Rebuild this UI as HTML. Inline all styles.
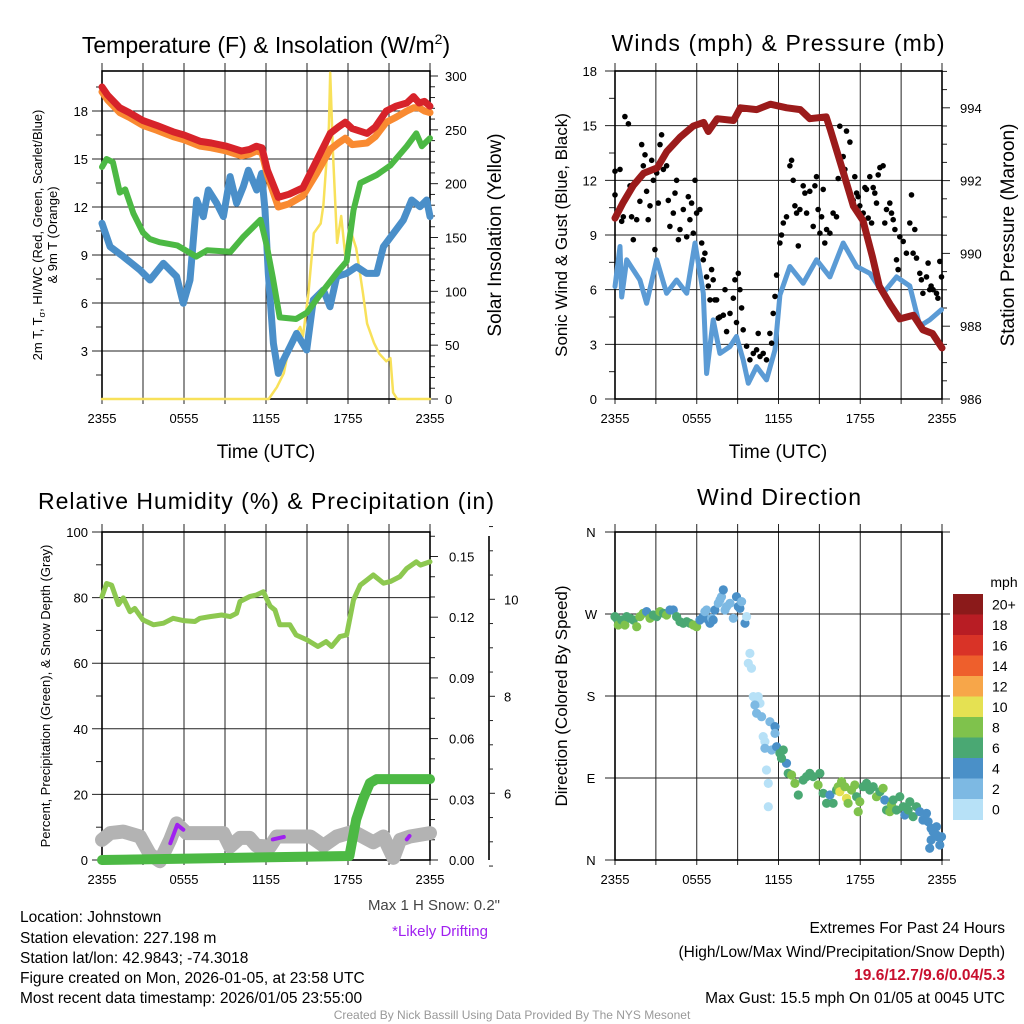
<!DOCTYPE html>
<html><head><meta charset="utf-8"><style>
html,body{margin:0;padding:0;background:#fff;}
svg{display:block;font-family:"Liberation Sans",Arial,sans-serif;}
</style></head><body>
<svg id="fig" width="1024" height="1024" viewBox="0 0 1024 1024" xmlns="http://www.w3.org/2000/svg">
<rect width="1024" height="1024" fill="#fff"/>
<g id="gl"></g>
<text x="266" y="53" font-size="23" text-anchor="middle">Temperature (F) &amp; Insolation (W/m<tspan font-size="14" dy="-9">2</tspan><tspan dy="9">)</tspan></text>
<text x="778" y="51" font-size="23" text-anchor="middle" textLength="333">Winds (mph) &amp; Pressure (mb)</text>
<text x="266" y="509" font-size="23" text-anchor="middle" textLength="456">Relative Humidity (%) &amp; Precipitation (in)</text>
<text x="779" y="505" font-size="23" text-anchor="middle" textLength="164">Wind Direction</text>
<text x="266" y="458" font-size="19" text-anchor="middle">Time (UTC)</text>
<text x="778" y="458" font-size="19" text-anchor="middle">Time (UTC)</text>
<text transform="translate(42,235) rotate(-90)" font-size="13" text-anchor="middle">2m T, T<tspan font-size="9" dy="3">σ</tspan><tspan dy="-3">, HI/WC (Red, Green, Scarlet/Blue)</tspan></text>
<text transform="translate(57,235) rotate(-90)" font-size="13" text-anchor="middle">&amp; 9m T (Orange)</text>
<text transform="translate(501,235) rotate(-90)" font-size="19" text-anchor="middle">Solar Insolation (Yellow)</text>
<text transform="translate(567,235) rotate(-90)" font-size="17" text-anchor="middle">Sonic Wind &amp; Gust (Blue, Black)</text>
<text transform="translate(1014,235) rotate(-90)" font-size="19" text-anchor="middle">Station Pressure (Maroon)</text>
<text transform="translate(50,696) rotate(-90)" font-size="13" text-anchor="middle">Percent, Precipitation (Green), &amp; Snow Depth (Gray)</text>
<text transform="translate(567,696) rotate(-90)" font-size="17" text-anchor="middle">Direction (Colored By Speed)</text>
<text x="1004" y="587" font-size="14" text-anchor="middle">mph</text>
<text x="500" y="910" font-size="15" fill="#444" text-anchor="end">Max 1 H Snow: 0.2"</text>
<text x="488" y="936" font-size="15" fill="#a020f0" text-anchor="end">*Likely Drifting</text>
<g font-size="15.5">
<text x="20" y="922">Location: Johnstown</text>
<text x="20" y="943">Station elevation: 227.198 m</text>
<text x="20" y="963">Station lat/lon: 42.9843; -74.3018</text>
<text x="20" y="983">Figure created on Mon, 2026-01-05, at 23:58 UTC</text>
<text x="20" y="1003">Most recent data timestamp: 2026/01/05 23:55:00</text>
</g>
<g font-size="15.5" text-anchor="end">
<text x="1005" y="933">Extremes For Past 24 Hours</text>
<text x="1005" y="957">(High/Low/Max Wind/Precipitation/Snow Depth)</text>
<text x="1005" y="980" fill="#c8102e" font-weight="bold">19.6/12.7/9.6/0.04/5.3</text>
<text x="1005" y="1003">Max Gust: 15.5 mph On 01/05 at 0045 UTC</text>
</g>
<text x="512" y="1019" font-size="12" fill="#999" text-anchor="middle">Created By Nick Bassill Using Data Provided By The NYS Mesonet</text>
</svg>
<script>
// ---------- Panel 1 data ----------
const tH=[0,0.4,1.3,2,3,4,5.2,6,7.2,8,9.1,10.2,10.8,11.3,11.7,12.1,12.9,13.7,14.7,15.7,16.7,17.3,17.8,18.3,19.4,20,20.8,21.5,22.3,22.8,23.2,23.6,24];
const tempRed=[19.5,19,18.2,17.9,17.4,17.1,16.7,16.5,16.1,16,15.8,15.5,15.6,15.8,15.7,14.3,12.6,12.8,13.2,14.9,16.6,17,17.3,16.9,16.6,17,18,18.3,18.5,18.9,18.5,18.6,18.3];
const temp9mOrange=[19.2,18.7,17.9,17.6,17.1,16.8,16.4,16.2,15.8,15.7,15.5,15.2,15.3,15.5,15.4,14.0,12.0,12.2,12.7,14.1,15.6,16.0,16.3,15.9,16.0,16.4,17.3,17.6,18.0,18.2,18.2,18.0,17.9];
const dewH=[0,0.34,0.8,1.3,1.7,2.3,3,3.5,4.2,5.5,6.9,7.7,9.4,10.3,11.6,12.05,12.5,13,14.2,15,16.2,17.2,17.9,18.4,18.9,20.1,21.1,22.3,23,23.4,24];
const dewGreen=[14.5,15,14.8,12.9,13.1,11.6,10.4,10,9.8,9.6,8.9,9.3,9.2,10.1,11.2,9.6,7.6,5.1,5.0,5.4,6.8,7.9,8.6,11.8,13.5,14.0,14.6,15.8,16.6,15.8,16.3];
const wcH=[0,0.59,1.56,2.78,3.51,4.49,5.46,5.95,6.44,6.93,7.41,7.78,8.39,8.88,9.37,9.85,10.34,10.71,11.32,11.68,11.93,12.17,12.54,12.9,13.27,13.76,14.24,14.98,15.46,16.2,16.68,17.17,17.9,18.63,19.37,20.1,20.59,21.32,22.05,22.66,23.27,23.76,24];
const wcBlue=[10.98,9.52,8.9,8.06,7.44,8.48,7.65,5.98,7.44,12.44,11.4,13.06,12.23,11.4,13.9,12.23,13.27,14.3,13.06,14.1,11.8,7.85,3.48,1.6,2.44,3.27,4.1,3.06,6.19,6.81,5.77,7.65,7.85,8.27,7.85,7.85,9.52,10.35,11.19,12.44,12.02,12.44,11.4];
const solH=[0,12.2,12.8,13.3,13.75,14.5,14.7,15.1,15.5,16.0,16.2,16.6,16.7,16.9,17.2,17.5,17.8,18.1,18.6,19.1,19.4,19.9,20.3,20.8,21.1,21.3,21.6,24];
const solar=[0,0,11,24,52,67,58,98,154,163,180,253,303,228,145,170,133,160,140,98,70,52,42,35,38,6,0,0];
const tempTicks=[3,6,9,12,15,18];
const solarTicks=[0,50,100,150,200,250,300];
const timeLabels=["2355","0555","1155","1755","2355"];
// ---------- Panel 2 data ----------
const presH=[0,0.6,1.35,2.1,3.1,3.8,4.8,5.75,6.5,6.85,7.5,8.7,9.2,10.4,11.4,12.6,13.6,14.3,15.5,15.8,16.7,17.5,18.2,18.9,19.4,20.2,20.9,21.9,22.6,23.3,24];
const pressure=[990.97,991.4,991.87,992.2,992.35,992.8,993.2,993.5,993.6,993.35,993.7,993.65,994.0,993.95,994.1,994.0,993.95,993.7,993.75,993.4,992.3,991.3,990.9,989.9,989.1,988.6,988.2,988.3,987.9,987.8,987.4];
const windH=[0,0.37,0.49,0.86,1.83,2.32,3.06,3.79,4.52,5.26,5.87,6.48,6.72,7.21,7.7,8.44,8.92,9.41,9.78,10.39,11.12,11.74,12.1,12.84,13.81,14.79,15.77,16.75,17.73,18.7,19.68,20.66,21.64,22.37,23.1,23.96];
const windSpd=[6.17,8.37,5.6,7.64,6.53,5.25,7.64,5.8,6.53,5.8,8.56,5.8,1.4,4.34,2.5,2.88,3.43,2.14,0.86,1.78,1.05,2.7,5.7,7.27,6.35,7.64,6.7,8.56,7.27,6.9,5.8,6.7,6.2,4.0,4.34,4.9];
const gustH=[0,0,0.37,0.49,0.73,0.98,0.61,1.1,1.22,1.34,1.59,1.83,1.96,2.08,2.2,2.32,2.44,2.57,2.69,2.81,2.93,3.06,3.18,3.3,3.42,3.55,3.79,3.91,4.03,4.28,4.4,4.52,4.65,4.77,5.01,5.26,5.38,5.5,5.62,5.75,5.87,5.99,6.23,6.36,6.48,6.6,6.72,6.85,6.97,7.09,7.21,7.33,7.46,7.58,7.7,7.95,8.07,8.19,8.44,8.68,8.8,8.92,9.05,9.17,9.29,9.41,9.66,9.9,10.15,10.39,10.51,10.64,10.88,11.12,11.37,11.49,11.61,11.74,11.86,12.1,12.22,12.35,12.59,12.84,12.96,13.08,13.2,13.33,13.45,13.57,13.81,13.94,14.06,14.3,14.55,14.67,14.79,14.91,15.04,15.16,15.28,15.4,15.53,15.77,16.01,16.26,16.38,16.5,16.75,16.87,16.99,17.24,17.48,17.6,17.73,17.85,17.97,18.22,18.34,18.46,18.58,18.7,18.83,18.95,19.07,19.19,19.32,19.44,19.68,19.8,19.93,20.17,20.29,20.42,20.54,20.66,20.78,20.9,21.15,21.39,21.64,21.76,21.88,22.0,22.13,22.37,22.49,22.6,22.86,22.98,23.1,23.2,23.35,23.6,23.7,23.84,23.96];
const gustSpd=[11.2,12.5,12.6,9.75,15.5,15.1,10.0,11.7,10.0,8.74,9.84,10.85,13.96,12.8,13.4,11.4,9.84,10.6,13.1,12.0,8.2,12.4,10.75,13.96,14.5,12.6,12.8,10.9,9.47,10.2,11.3,12.0,8.74,9.3,10.4,8.9,11.1,9.84,10.75,9.1,12.0,10.2,10.4,8.56,7.64,8.0,6.7,6.2,5.44,7.1,6.54,5.44,5.44,4.44,4.5,4.6,6.0,3.7,4.7,5.53,6.54,4.2,6.9,6.0,5.0,3.8,2.9,2.15,2.5,2.7,3.6,2.33,2.5,2.15,3.6,3.06,4.7,5.63,6.8,8.56,9.0,9.66,10.0,12.8,13.1,12.0,10.6,10.2,8.4,10.4,11.7,11.3,10.2,11.4,9.47,11.7,12.2,10.4,9.1,10.0,11.5,8.56,9.3,9.1,10.2,10.0,12.1,14.97,13.3,12.6,14.7,14.1,10.9,12.2,11.3,11.1,10.6,10.2,11.6,11.5,9.93,12.2,9.66,11.6,11.3,10.75,12.3,12.7,12.8,9.66,10.4,10.75,10.2,9.84,9.3,7.64,7.1,8.9,8.65,8.0,9.66,11.2,8.0,9.3,7.73,6.9,6.54,5.8,6.7,7.46,6.0,6.2,6.0,5.8,5.53,7.55,6.7];
const windTicks=[0,3,6,9,12,15,18];
const presTicks=[986,988,990,992,994];
// ---------- Panel 3 data ----------
const rhH=[0,0.34,0.7,1.2,1.56,2.05,2.4,3.0,3.76,4.5,5.2,5.95,6.8,7.17,7.9,8.76,9.37,9.85,10.1,10.8,11.3,11.8,12.3,12.66,13.0,13.75,14.2,15.0,15.8,16.4,16.8,17.4,17.9,18.4,18.9,19.4,19.85,20.6,21.1,21.8,22.3,23.0,23.3,24];
const rh=[80.3,84.3,83.8,77.9,79.9,75.7,76.7,73.2,71.7,72.2,73.7,73.0,72.7,73.7,74.2,74.7,74.2,75.2,78.8,80.3,80.8,81.8,77.4,76.2,71.7,71.7,68.6,67.1,65.1,66.6,65.1,68.1,68.6,79.3,83.8,85.4,86.9,84.4,84.9,86.4,88.9,90.9,89.9,90.9];
const precipH=[0,18.1,18.6,19.1,19.6,20.1,24];
const precip=[0,0.002,0.02,0.03,0.038,0.04,0.04];
const snowH=[0,0.6,1.56,2.78,3.51,4.24,4.98,5.46,6.19,8.88,9.37,10.1,10.8,11.3,12.3,12.78,15.24,16.2,17.17,18.39,19.85,20.59,21.32,21.81,22.54,24];
const snowDepth=[5.04,5.18,5.21,5.11,4.74,4.6,5.04,5.38,5.18,5.18,4.9,5.08,5.08,4.92,4.9,5.11,5.11,4.92,5.11,5.21,4.99,5.11,4.67,5.04,5.11,5.18];
const driftH=[[5.0,5.5,5.95],[12.5,13.3],[22.3,22.5]];
const driftV=[[4.97,5.35,5.25],[5.05,5.1],[5.05,5.12]];
const rhTicks=[0,20,40,60,80,100];
const precipTicks=[0,0.03,0.06,0.09,0.12,0.15];
const snowTicks=[6,8,10];
// ---------- Panel 4 data ----------
const dirH=[0,0.12,0.24,0.49,0.73,0.86,1.1,1.34,1.59,1.83,2.08,2.32,2.57,2.81,3.06,3.3,3.55,3.79,4.03,4.28,4.52,4.77,5.01,5.26,5.5,5.75,5.99,6.23,6.48,6.6,6.72,6.85,6.97,7.09,7.21,7.33,7.58,7.7,7.82,7.95,8.07,8.19,8.44,8.68,8.92,9.05,9.17,9.29,9.54,9.66,9.9,9.78,10.02,10.15,10.51,10.64,10.27,10.39,10.76,11.37,11.74,11.74,10.88,11.0,11.0,11.49,11.86,12.1,12.35,12.59,12.22,11.12,11.25,11.25,12.71,12.96,13.2,13.45,13.81,14.06,14.3,14.55,14.91,15.04,15.28,15.53,15.77,16.01,16.26,16.38,16.5,16.63,16.87,16.99,17.11,17.36,17.6,17.73,17.85,17.97,18.22,18.46,18.7,18.95,19.19,19.44,19.68,19.8,19.93,20.17,20.29,20.42,20.66,20.9,21.15,21.27,21.52,21.64,21.88,22.13,22.37,22.6,22.86,22.98,23.2,23.35,23.6,23.7,23.96,23.2,23.1,23.84,23.6];
const dirDeg=[267.1,265.3,257.9,263.4,257.9,267.1,265.3,263.4,256.1,267.1,270.8,272.6,265.3,268.9,267.1,272.6,270.8,268.9,274.4,274.4,267.1,261.6,259.8,261.6,259.8,257.9,256.1,263.4,267.1,272.6,274.4,263.4,259.8,265.3,263.4,274.4,281.7,285.4,289.0,296.4,274.4,278.1,281.7,265.3,289.0,278.1,276.2,283.6,259.8,267.1,226.8,215.9,210.4,179.3,179.3,172.0,170.1,161.0,157.3,151.8,146.4,139.0,135.4,129.9,122.6,120.7,124.4,117.1,120.7,106.1,111.6,98.8,84.1,58.5,95.1,93.3,84.1,71.3,87.8,91.5,95.1,91.5,82.3,95.1,73.2,62.2,71.3,62.2,76.8,80.5,75.0,86.0,80.5,67.7,62.2,76.8,82.3,69.5,53.0,64.0,80.5,84.1,76.8,80.5,69.5,75.0,78.7,65.9,54.9,53.0,60.4,65.9,54.9,69.5,58.5,49.4,54.9,64.0,47.6,58.5,53.0,43.9,51.2,42.1,34.7,31.1,36.6,25.6,25.6,21.9,12.8,16.5,27.4];
const dirSpd=[7,7,9,7,9,7,7,7,9,9,9,5,9,7,7,9,7,9,5,5,7,7,7,7,7,9,9,5,5,3,3,5,5,3,5,5,3,3,3,5,3,3,3,3,5,5,5,3,5,1,1,1,1,1,1,1,3,3,3,3,5,3,1,1,3,3,5,7,7,5,7,1,1,1,7,9,9,7,7,7,7,7,9,7,7,7,5,7,7,9,11,9,9,11,9,9,9,7,9,9,7,7,7,7,9,7,9,5,7,9,9,7,7,7,7,5,7,7,7,7,5,5,5,5,5,5,5,5,5,5,5,5,5];
const dirTicks=[0,90,180,270,360];
const dirLabels=["N","E","S","W","N"];
const cbLabels=["20+","18","16","14","12","10","8","6","4","2","0"];
const cbColors=["#8b1a1a","#b81d24","#d93327","#ee5f2c","#f7a649","#e5e152","#7fc24c","#4aa873","#4a90c8","#7db9e3","#b7e1f7"];

const NS="http://www.w3.org/2000/svg";
const root=document.getElementById('gl');
function mk(tag,parent){const e=document.createElementNS(NS,tag);(parent||root).appendChild(e);return e;}
function pathD(xs,ys,fx,fy){return xs.map((h,i)=>(i?'L':'M')+fx(h).toFixed(1)+','+fy(ys[i]).toFixed(1)).join('');}
function txt(x,y,s,size,anchor,name,parent){const t=mk('text',parent);t.setAttribute('x',x);t.setAttribute('y',y);t.setAttribute('font-size',size);t.setAttribute('text-anchor',anchor);t.textContent=s;


return t;}
function ln(x1,y1,x2,y2,stroke,w,name,parent){const l=mk('line',parent);l.setAttribute('x1',x1);l.setAttribute('y1',y1);l.setAttribute('x2',x2);l.setAttribute('y2',y2);l.setAttribute('stroke',stroke);l.setAttribute('stroke-width',w);


return l;}
function series(xs,ys,fx,fy,color,w,name,opacity){const p=mk('path');p.setAttribute('d',pathD(xs,ys,fx,fy));p.setAttribute('fill','none');p.setAttribute('stroke',color);p.setAttribute('stroke-width',w);p.setAttribute('stroke-linejoin','round');p.setAttribute('stroke-linecap','round');if(opacity)p.setAttribute('stroke-opacity',opacity);


return p;}
// frame with time grid
function frame(x0,x1,y0,y1,name){
  const fx=h=>x0+(x1-x0)*h/24;
  for(let h=0;h<=24;h+=3){ln(fx(h),y0-8,fx(h),y1+5,'#222',1,'time-gridline');}
  for(let i=0;i<timeLabels.length;i++){txt(fx(i*6),y1+24,timeLabels[i],13,'middle','time-tick-label');}
  const r=mk('rect');r.setAttribute('x',x0);r.setAttribute('y',y0);r.setAttribute('width',x1-x0);r.setAttribute('height',y1-y0);r.setAttribute('fill','none');r.setAttribute('stroke','#000');r.setAttribute('stroke-width',1.6);
  
  
  return fx;
}
// ---------- Panel 1 ----------
{
const x0=102,x1=430,y0=71,y1=399;
const fy=v=>399-v*16;
const fs=s=>399-s*(323/300);
for(const t of tempTicks){ln(x0-10,fy(t),x1,fy(t),'#222',1,'temp-gridline');txt(88,fy(t)+5,String(t),13,'end','temp-tick-label');}
for(let v=1.5;v<20.5;v+=3){ln(x0-6,fy(v),x0,fy(v),'#222',1,'temp-minor-tick');}
for(let s=0;s<=300;s+=10){ln(x1,fs(s),x1+(s%50?5:8),fs(s),'#222',1,'solar-tick');}
for(const s of solarTicks){txt(445,fs(s)+5,String(s),13,'start','solar-tick-label');}
const fx=frame(x0,x1,y0,y1,'temperature-plot-frame');
series(solH,solar,fx,fs,'#f8e15a',2.5,'solar-insolation-line');
series(wcH,wcBlue,fx,fy,'#4a8fc9',7,'windchill-line');
series(dewH,dewGreen,fx,fy,'#4cb944',6,'dewpoint-line');
series(tH,temp9mOrange,fx,fy,'#f98a31',7,'temp-9m-line');
series(tH,tempRed,fx,fy,'#d7232a',7,'temp-2m-line');
}
// ---------- Panel 2 ----------
{
const x0=615,x1=942,y0=71,y1=399;
const fy=v=>399-v*(328/18);
const fp=p=>399-(p-986)*36.4;
for(const t of windTicks){ln(x0-10,fy(t),x1,fy(t),'#222',1,'wind-gridline');txt(597,fy(t)+5,String(t),13,'end','wind-tick-label');}
for(let v=1.5;v<18;v+=3){ln(x0-6,fy(v),x0,fy(v),'#222',1,'wind-minor-tick');}
for(let p=986;p<=995;p+=0.5){ln(x1,fp(p),x1+(p%2?5:8),fp(p),'#222',1,'pressure-tick');}
for(const p of presTicks){txt(960,fp(p)+5,String(p),13,'start','pressure-tick-label');}
const fx=frame(x0,x1,y0,y1,'winds-plot-frame');
series(windH,windSpd,fx,fy,'#5b9bd5',5,'sonic-wind-line');
for(let i=0;i<gustH.length;i++){const c=mk('circle');c.setAttribute('cx',fx(gustH[i]).toFixed(1));c.setAttribute('cy',fy(gustSpd[i]).toFixed(1));c.setAttribute('r',2.8);c.setAttribute('fill','#000');

}
series(presH,pressure,fx,fp,'#9b1b1b',7,'pressure-line');
}
// ---------- Panel 3 ----------
{
const x0=102,x1=430,y0=532,y1=860;
const fy=v=>860-v*3.28;
const fpr=p=>860-p*(60.7/0.03);
const fsn=s=>793.3-(s-6)*48.5;
for(const t of rhTicks){ln(x0-10,fy(t),x1,fy(t),'#222',1,'rh-gridline');txt(88,fy(t)+5,String(t),13,'end','rh-tick-label');}
for(let v=10;v<100;v+=20){ln(x0-6,fy(v),x0,fy(v),'#222',1,'rh-minor-tick');}
for(let k=0;k<=16;k++){const p=k*0.01;ln(x1,fpr(p),x1+(k%3?5:8),fpr(p),'#222',1,'precip-tick');}
for(const p of precipTicks){txt(449,fpr(p)+5,p.toFixed(2),13,'start','precip-tick-label');}
ln(489,536,489,860,'#000',1.6,'snow-axis-spine');
for(let s=4.5;s<=11.5;s+=0.5){ln(489,fsn(s),489+(s%2?4:6),fsn(s),'#222',1,'snow-tick');}
for(const s of snowTicks){txt(504,fsn(s)+5,String(s),13,'start','snow-tick-label');}
const fx=frame(x0,x1,y0,y1,'humidity-plot-frame');
series(snowH,snowDepth,fx,fsn,'#b3b3b3',14,'snow-depth-line');
for(let k=0;k<driftH.length;k++){series(driftH[k],driftV[k],fx,fsn,'#a020f0',4,'drifting-segment');}
series(precipH,precip,fx,fpr,'#4cb944',10,'precipitation-line');
series(rhH,rh,fx,fy,'#8dc850',5,'relative-humidity-line');
}
// ---------- Panel 4 ----------
{
const x0=615,x1=942,y0=532,y1=860;
const fd=d=>860-d*(328/360);
for(let i=0;i<dirTicks.length;i++){ln(x0-10,fd(dirTicks[i]),x1+8,fd(dirTicks[i]),'#222',1,'direction-gridline');txt(591,fd(dirTicks[i])+5,dirLabels[i],13,'middle','direction-tick-label');}
const fx=frame(x0,x1,y0,y1,'direction-plot-frame');
for(let i=0;i<dirH.length;i++){const c=mk('circle');c.setAttribute('cx',fx(dirH[i]).toFixed(1));c.setAttribute('cy',fd(dirDeg[i]).toFixed(1));c.setAttribute('r',4.6);c.setAttribute('fill',cbColors[10-Math.min(10,Math.floor(dirSpd[i]/2))]);

}
const cbTop=594,cbH=20.5;
for(let k=0;k<cbColors.length;k++){const r=mk('rect');r.setAttribute('x',953);r.setAttribute('y',cbTop+k*cbH);r.setAttribute('width',30);r.setAttribute('height',cbH+0.5);r.setAttribute('fill',cbColors[k]);


txt(992,cbTop+k*cbH+cbH/2+5,cbLabels[k],14,'start','colorbar-label');}
}
</script>
</body></html>
